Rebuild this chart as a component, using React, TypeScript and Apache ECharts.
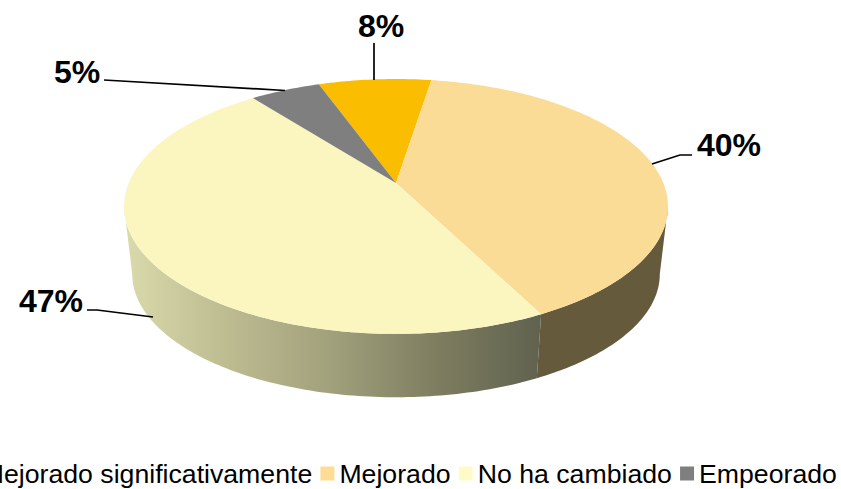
import React, { useEffect, useRef } from "react";
import * as echarts from "echarts";

const categories = ["Mejorado significativamente", "Mejorado", "No ha cambiado", "Empeorado"];
const values = [8, 40, 47, 5];
const topColors = ["#fbbd00", "#fadc96", "#fbf6c0", "#7f7f7f"];
const legendColors = ["#ffc000", "#fedc93", "#fffbc8", "#7f7f7f"];
const wallStops: string[][] = [["#6b5400"], ["#665a3c"], ["#dadaac", "#bdbb90", "#a0a07c", "#7e7d60", "#60624f"], ["#444444"]];

const START_DEG = 340.2;
const CX = 396;
const TOP = { cy: 183, rx: 267.3, ry: 123.1 };
const BOTTOM = { cy: 251.4, rx: 259.3, ry: 119.0 };
const K = 0.184;
const SIDE_A = 100.6;
const SIDE_B = 259.4;

function proj(plane: { cy: number; rx: number; ry: number }, deg: number): number[] {
  const t = (deg * Math.PI) / 180;
  const d = 1 + K * Math.cos(t);
  return [CX + (plane.rx * Math.sin(t)) / d, plane.cy - (plane.ry * Math.cos(t)) / d];
}

function arc(plane: { cy: number; rx: number; ry: number }, a: number, b: number): number[][] {
  const n = Math.max(2, Math.ceil(Math.abs(b - a) / 1));
  const pts: number[][] = [];
  for (let i = 0; i <= n; i++) pts.push(proj(plane, a + ((b - a) * i) / n));
  return pts;
}

function renderSlice(index: number) {
  return (_params: any, api: any) => {
    const total = values.reduce((s, v) => s + v, 0);
    const before = values.slice(0, index).reduce((s, v) => s + v, 0);
    const a = START_DEG + (before / total) * 360;
    const b = a + (api.value(0) / total) * 360;
    const children: any[] = [];
    // wall: visible part of the slice between both silhouette angles
    const ranges = [
      [a, b],
      [a - 360, b - 360],
    ];
    for (const [ra, rb] of ranges) {
      const wa = Math.max(ra, SIDE_A);
      const wb = Math.min(rb, SIDE_B);
      if (wb > wa) {
        const stops = wallStops[index];
        const pts = [...arc(TOP, wa, wb), ...arc(BOTTOM, wb, wa)];
        const xs = pts.map((p) => p[0]);
        const fill =
          stops.length === 1
            ? stops[0]
            : new echarts.graphic.LinearGradient(
                Math.min(...xs),
                0,
                Math.max(...xs),
                0,
                stops.map((color, i) => ({ offset: i / (stops.length - 1), color })),
                true
              );
        children.push({ type: "polygon", shape: { points: pts }, style: { fill } });
      }
    }
    children.push({
      type: "polygon",
      shape: { points: [[CX, TOP.cy], ...arc(TOP, a, b)] },
      style: { fill: topColors[index] },
    });
    return { type: "group", children };
  };
}

const labelStyle = (text: string) => ({
  text,
  fill: "#000",
  font: 'bold 32px "Liberation Sans", Arial, sans-serif',
  textAlign: "center",
  textVerticalAlign: "middle",
});
const lineStyle = { stroke: "#000", lineWidth: 1.7, fill: "none" };
const labelPos = [
  [381, 26],
  [729, 145],
  [51, 301],
  [77, 72],
];
const leaders = [
  [[374, 43], [374, 80]],
  [[652, 164], [680, 155], [692, 155]],
  [[87, 310], [97, 310], [153, 317]],
  [[104, 80], [285, 90.5]],
];

export default function App() {
  const ref = useRef<HTMLDivElement>(null);
  useEffect(() => {
    document.body.style.margin = "0";
    const chart = echarts.init(ref.current!, undefined, { renderer: "svg" });
    chart.setOption({
      animation: false,
      backgroundColor: "#fff",
      legend: {
        data: categories,
        icon: "rect",
        left: -37.2,
        top: 460,
        width: 1200,
        padding: 0,
        itemWidth: 14,
        itemHeight: 14,
        itemGap: 8.2,
        selectedMode: false,
        textStyle: {
          fontFamily: '"Liberation Sans", Arial, sans-serif',
          fontSize: 26.67,
          color: "#000",
          padding: [0, 0, 2, 0],
        },
      },
      series: categories.map((name, i) => ({
        type: "custom",
        name,
        coordinateSystem: "none",
        data: [values[i]],
        itemStyle: { color: legendColors[i] },
        renderItem: renderSlice(i),
      })),
      graphic: [
        ...leaders.map((points) => ({ type: "polyline", shape: { points }, style: lineStyle, z: 50 })),
        ...values.map((v, i) => ({
          type: "text",
          x: labelPos[i][0],
          y: labelPos[i][1],
          style: labelStyle(`${v}%`),
          z: 50,
        })),
      ],
    });
    return () => chart.dispose();
  }, []);
  return <div ref={ref} style={{ width: 841, height: 489 }} />;
}
